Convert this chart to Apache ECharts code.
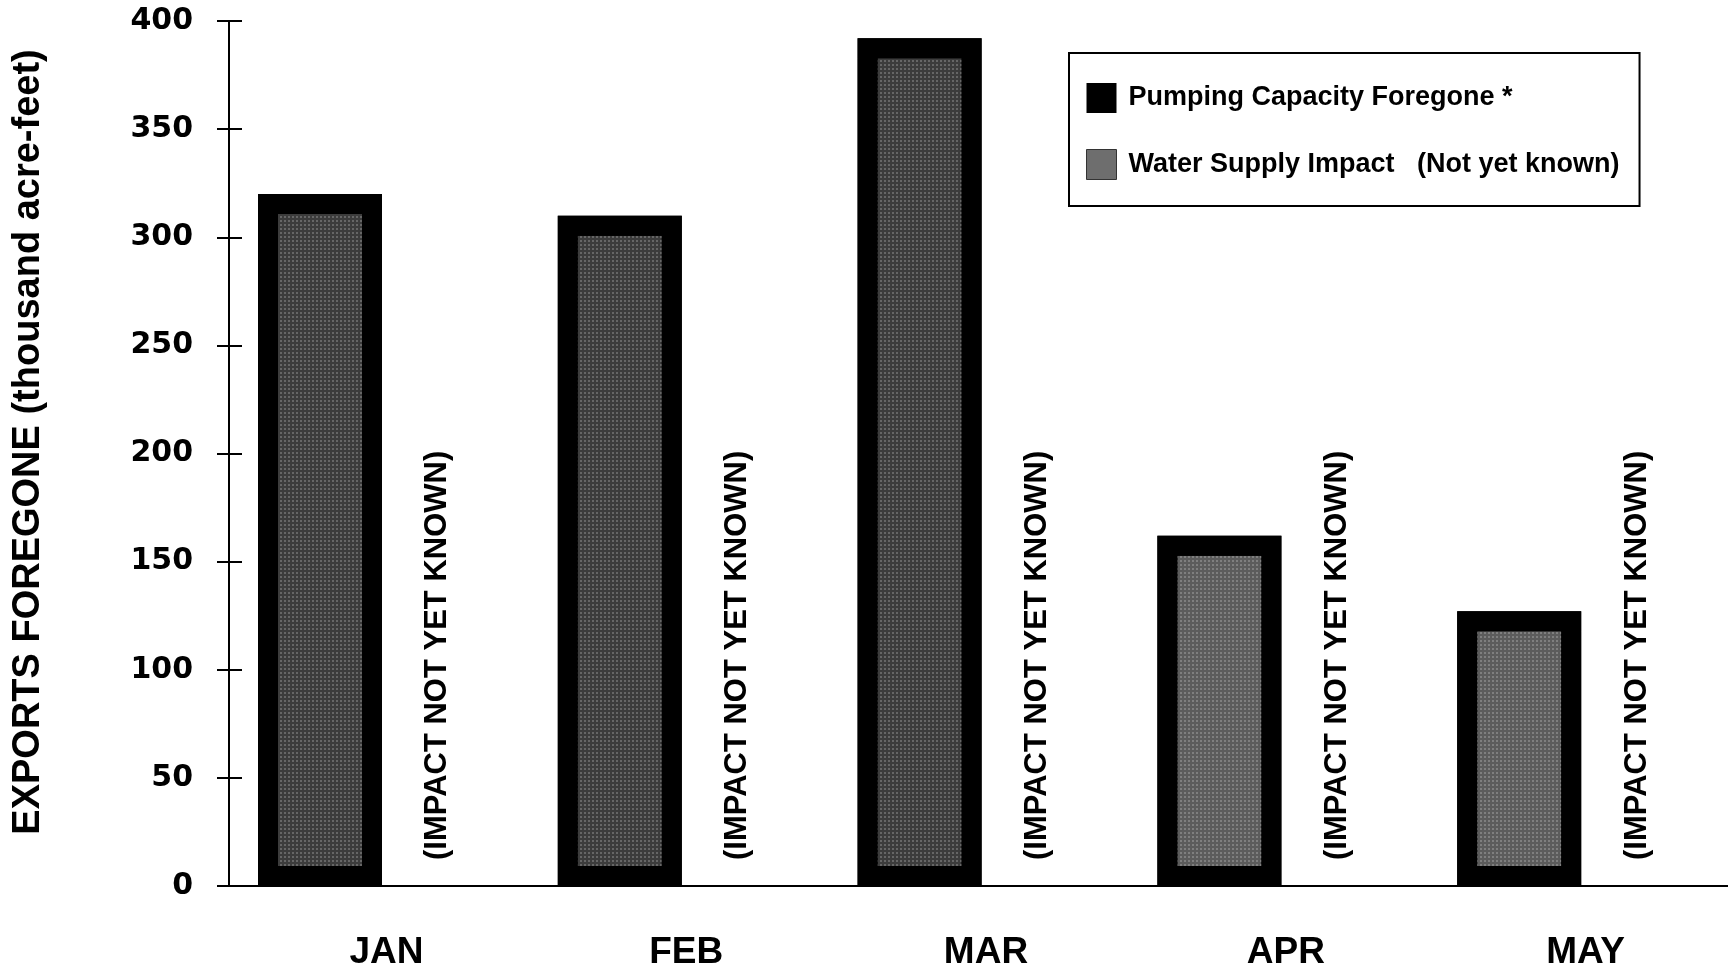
<!DOCTYPE html>
<html>
<head>
<meta charset="utf-8">
<script src="https://cdn.jsdelivr.net/npm/echarts@6/dist/echarts.min.js"></script>
<style>
  html, body { margin: 0; padding: 0; background: #fff; }
  #chart { width: 1728px; height: 975px; }
</style>
</head>
<body>
<div id="chart"></div>
<script>
// Monthly exports foregone (thousand acre-feet)
const months = ['JAN', 'FEB', 'MAR', 'APR', 'MAY'];
const pumpingForegone = [320, 310, 392, 162, 127];
// Water supply impact has not been determined yet for any month
const supplyImpact = [0, 0, 0, 0, 0];
const impactNote = '(IMPACT NOT YET KNOWN)';
const yMin = 0, yMax = 400, yStep = 50;

const seriesNames = ['Pumping Capacity Foregone *', 'Water Supply Impact   (Not yet known)'];
const innerFill = ['#3c3c3c', '#3c3c3c', '#3c3c3c', '#5c5c5c', '#5c5c5c'];

const chart = echarts.init(document.getElementById('chart'), null, { renderer: 'canvas' });

const tickLine = { color: '#000', width: 2 };

// fine dot screen laid over the bar fills
const screenDecal = {
  symbol: 'rect',
  symbolSize: 1,
  color: 'rgba(255,255,255,0.22)',
  dashArrayX: [[2, 2]],
  dashArrayY: [2, 2],
  rotation: 0
};

chart.setOption({
  animation: false,
  backgroundColor: '#fff',
  grid: { left: 229, right: 0, top: 21, bottom: 89, containLabel: false },
  legend: {
    orient: 'vertical',
    left: 1069,
    top: 53,
    itemWidth: 30,
    itemHeight: 30,
    itemGap: 36,
    padding: [30, 20, 26, 17],
    borderColor: '#000',
    borderWidth: 2,
    backgroundColor: '#fff',
    selectedMode: false,
    textStyle: {
      fontFamily: "'Liberation Sans Narrow', 'Arial Narrow', 'Liberation Sans', sans-serif",
      fontWeight: 'bold',
      fontSize: 27,
      color: '#000',
      padding: [0, 0, 0, 7]
    },
    data: [
      { name: seriesNames[0], icon: 'rect', itemStyle: { color: '#000', borderWidth: 0, decal: 'none' } },
      { name: seriesNames[1], icon: 'rect', itemStyle: { color: '#6e6e6e', borderColor: '#333', borderWidth: 1 } }
    ]
  },
  xAxis: {
    type: 'category',
    data: months,
    axisLine: { show: true, lineStyle: tickLine },
    axisTick: { show: false },
    axisLabel: {
      margin: 48,
      padding: [0, 0, 0, 15],
      fontFamily: "'Liberation Sans', Arial, sans-serif",
      fontWeight: 'bold',
      fontSize: 37,
      color: '#000'
    },
    splitLine: { show: false }
  },
  yAxis: [
    {
      type: 'value',
      min: yMin,
      max: yMax,
      interval: yStep,
      axisLine: { show: true, lineStyle: tickLine },
      axisTick: { show: true, length: 12, lineStyle: tickLine },
      axisLabel: {
        margin: 36,
        fontFamily: "'DejaVu Sans', sans-serif",
        fontWeight: 'bold',
        fontSize: 30,
        color: '#000'
      },
      splitLine: { show: false },
      name: 'EXPORTS FOREGONE (thousand acre-feet)',
      nameLocation: 'middle',
      nameRotate: 90,
      nameGap: 181,
      nameTextStyle: {
        fontFamily: "'Liberation Sans', Arial, sans-serif",
        fontWeight: 'bold',
        fontSize: 38,
        color: '#000',
        padding: [0, 0, 0, 23]
      }
    },
    {
      // inner half of the cross ticks
      type: 'value',
      position: 'left',
      min: yMin,
      max: yMax,
      interval: yStep,
      axisLine: { show: false },
      axisTick: { show: true, inside: true, length: 13, lineStyle: tickLine },
      axisLabel: { show: false },
      splitLine: { show: false }
    }
  ],
  series: [
    {
      name: seriesNames[0],
      type: 'bar',
      data: pumpingForegone,
      barWidth: 124,
      barGap: '-5%',
      itemStyle: {
        color: p => innerFill[p.dataIndex],
        borderColor: '#000',
        borderWidth: 20,
        decal: screenDecal
      }
    },
    {
      name: seriesNames[1],
      type: 'bar',
      data: supplyImpact,
      barWidth: 124,
      itemStyle: { color: '#6e6e6e' },
      label: {
        show: true,
        position: 'insideBottom',
        distance: 30,
        offset: [-4, 0],
        rotate: 90,
        align: 'left',
        verticalAlign: 'middle',
        formatter: impactNote,
        fontFamily: "'Liberation Sans', Arial, sans-serif",
        fontWeight: 'bold',
        fontSize: 31,
        color: '#000',
        textBorderWidth: 0
      }
    }
  ]
});
</script>
</body>
</html>
